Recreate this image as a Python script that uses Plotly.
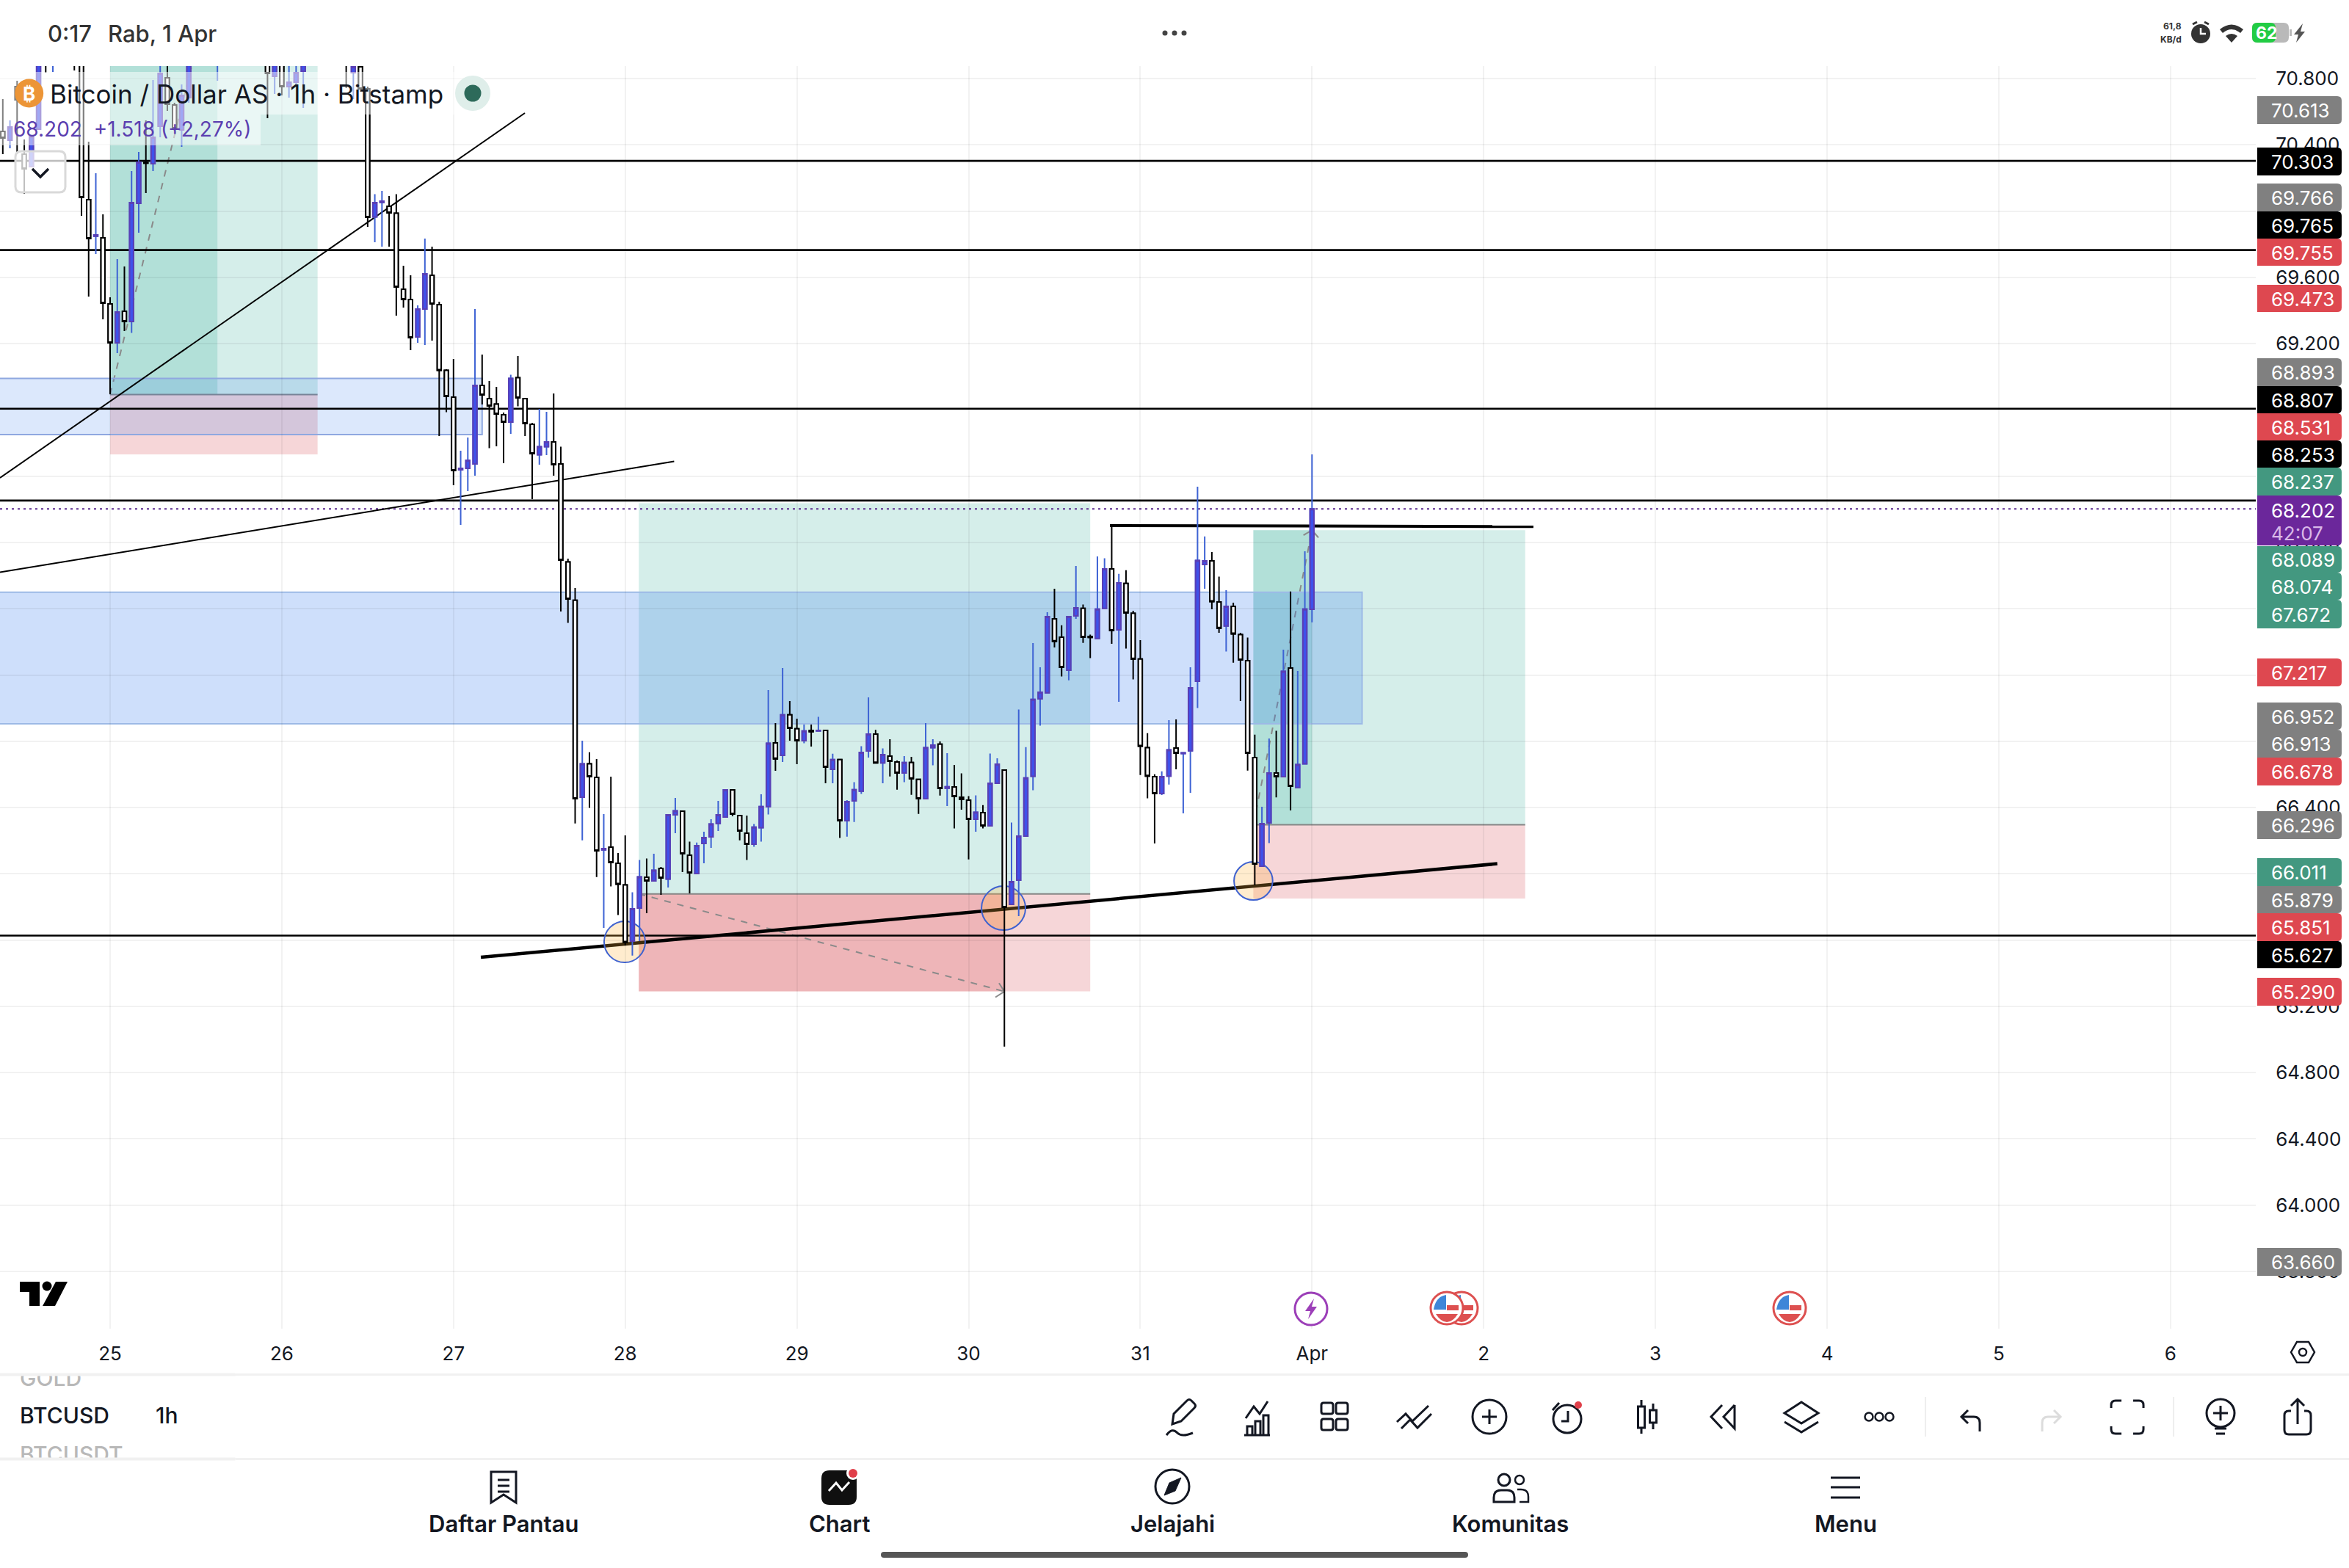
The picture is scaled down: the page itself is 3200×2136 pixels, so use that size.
import plotly.graph_objects as go

# BTCUSD hourly candles; hour 0 is 25 March 00:00, prices are in thousands of dollars.
HOURS = [-15, -14, -13, -12, -11, -10, -9, -8, -5, -4, -3, -2, -1, 0, 1, 2, 3, 4, 5, 6, 7, 8, 9, 10, 11,
         15, 22, 23, 24, 25, 26, 27] + list(range(33, 169))

OPEN = [70.481, 70.428, 70.751, 70.344, 70.268, 70.494, 71.053, 70.942, 71.2, 71.008,
        70.069, 69.848, 69.839, 69.440, 69.205, 69.395, 69.333, 70.047, 70.293, 70.286,
        70.512, 70.804, 70.640, 70.490, 70.685, 70.95, 71.1, 70.813, 70.96, 70.751, 70.778, 70.844,
        71.05, 70.835, 70.871, 70.738, 69.965, 70.052, 70.029, 69.987, 69.528, 69.466,
        69.240, 69.409, 69.613, 69.435, 69.039, 68.877, 68.439, 68.447, 68.474, 68.948,
        68.868, 68.835, 68.771, 68.726, 68.994, 68.868, 68.713, 68.529, 68.578, 68.607,
        68.474, 67.882, 67.651, 66.462, 66.664, 66.582, 66.144, 66.161, 66.064, 65.933,
        65.594, 65.793, 65.979, 65.957, 66.033, 65.968, 66.356, 66.378, 66.112, 66.002,
        66.183, 66.223, 66.304, 66.343, 66.507, 66.352, 66.245, 66.179, 66.278, 66.406,
        66.790, 66.715, 66.960, 66.876, 66.803, 66.864, 66.862, 66.866, 66.631, 66.689,
        66.321, 66.440, 66.499, 66.741, 66.843, 66.669, 66.710, 66.675, 66.609, 66.672,
        66.570, 66.454, 66.762, 66.782, 66.517, 66.524, 66.462, 66.445, 66.329, 66.369,
        66.290, 66.547, 66.626, 65.815, 65.962, 66.228, 66.589, 67.056, 67.093, 67.539,
        67.428, 67.229, 67.557, 67.602, 67.433, 67.421, 67.602, 67.840, 67.473, 67.753,
        67.572, 67.297, 66.761, 66.586, 66.484, 66.590, 66.759, 66.726, 66.743, 67.162,
        67.867, 67.889, 67.641, 67.496, 67.614, 67.444, 67.286, 66.702, 66.046, 66.307,
        66.609, 66.586, 67.242, 66.521, 66.664, 67.597]

HIGH = [70.676, 70.547, 70.787, 70.432, 70.450, 71.097, 71.15, 71.2, 71.3, 71.1,
        70.419, 70.228, 69.980, 69.480, 69.710, 69.666, 70.242, 70.357, 70.547, 70.791,
        71.008, 70.942, 70.654, 70.765, 71.05, 71.2, 71.2, 71.1, 71.0, 70.95, 70.95, 71.05,
        71.1, 70.95, 70.95, 70.751, 70.102, 70.122, 70.091, 70.102, 69.670, 69.613,
        69.431, 69.834, 69.785, 69.453, 69.045, 69.107, 68.554, 68.633, 69.409, 69.134,
        68.975, 68.939, 68.784, 69.012, 69.125, 68.873, 68.722, 68.806, 68.788, 68.899,
        68.578, 67.902, 67.725, 66.804, 66.734, 66.693, 66.360, 66.586, 66.126, 66.232,
        65.889, 66.084, 66.092, 66.121, 66.041, 66.356, 66.458, 66.378, 66.194, 66.189,
        66.254, 66.329, 66.440, 66.507, 66.507, 66.352, 66.352, 66.301, 66.480, 67.109,
        66.910, 67.242, 67.043, 66.936, 66.901, 66.901, 66.948, 66.866, 66.725, 66.689,
        66.445, 66.553, 66.770, 67.065, 66.869, 66.757, 66.812, 66.684, 66.711, 66.706,
        66.570, 66.910, 66.812, 66.799, 66.728, 66.657, 66.606, 66.469, 66.474, 66.415,
        66.726, 66.697, 66.626, 66.309, 66.992, 66.765, 67.393, 67.247, 67.579, 67.721,
        67.500, 67.552, 67.858, 67.625, 67.444, 67.916, 67.905, 68.104, 67.810, 67.833,
        67.588, 67.411, 66.849, 66.601, 66.619, 66.928, 66.932, 66.730, 67.247, 68.337,
        68.036, 67.942, 67.794, 67.712, 67.636, 67.455, 67.426, 66.840, 66.405, 66.817,
        66.863, 67.353, 67.704, 67.224, 67.947, 68.531]

LOW = [70.344, 70.379, 70.344, 70.104, 70.268, 70.494, 70.835, 70.840, 70.849, 69.971,
       69.484, 69.741, 69.347, 68.895, 69.143, 69.276, 69.265, 69.870, 70.109, 70.242,
       70.446, 70.605, 70.485, 70.388, 70.654, 70.787, 70.561, 70.707, 70.698, 70.685, 70.751, 70.623,
       70.742, 70.676, 70.720, 69.905, 69.812, 69.785, 69.785, 69.369, 69.418, 69.161,
       69.205, 69.192, 69.218, 68.642, 68.786, 68.345, 68.106, 68.310, 68.403, 68.833,
       68.569, 68.580, 68.478, 68.656, 68.822, 68.642, 68.261, 68.469, 68.527, 68.403,
       67.583, 67.515, 66.304, 66.202, 66.398, 65.981, 65.674, 65.924, 65.751, 65.567,
       65.507, 65.594, 65.762, 65.957, 65.873, 65.917, 66.245, 66.010, 65.882, 66.002,
       66.064, 66.157, 66.259, 66.343, 66.347, 66.202, 66.084, 66.163, 66.194, 66.358,
       66.622, 66.675, 66.804, 66.662, 66.788, 66.768, 66.862, 66.547, 66.547, 66.216,
       66.224, 66.313, 66.482, 66.702, 66.666, 66.547, 66.587, 66.508, 66.553, 66.477,
       66.362, 66.454, 66.655, 66.472, 66.409, 66.274, 66.387, 66.087, 66.254, 66.274,
       66.290, 66.547, 64.957, 65.815, 65.745, 66.228, 66.504, 66.894, 67.093, 67.366,
       67.191, 67.168, 67.539, 67.394, 67.302, 67.421, 67.602, 67.388, 67.038, 67.360,
       67.173, 66.596, 66.456, 66.183, 66.476, 66.539, 66.631, 66.365, 66.489, 67.001,
       67.721, 67.597, 67.455, 67.342, 67.274, 67.043, 66.623, 65.931, 66.046, 66.185,
       66.461, 66.586, 66.383, 66.521, 66.664, 67.518]

CLOSE = [70.441, 70.508, 70.672, 70.255, 70.450, 70.964, 70.920, 71.053, 70.98, 70.082,
         69.834, 69.856, 69.444, 69.205, 69.391, 69.333, 70.051, 70.295, 70.289, 70.446,
         70.831, 70.645, 70.499, 70.698, 70.920, 71.1, 70.831, 71.0, 70.751, 70.778, 70.835, 70.964,
         70.95, 70.871, 70.738, 69.963, 70.051, 70.060, 69.989, 69.542, 69.466, 69.236,
         69.409, 69.621, 69.440, 69.039, 68.882, 68.434, 68.447, 68.496, 68.948, 68.890,
         68.824, 68.775, 68.726, 68.990, 68.873, 68.718, 68.536, 68.578, 68.607, 68.469,
         67.893, 67.659, 66.454, 66.664, 66.586, 66.139, 66.152, 66.068, 65.937, 65.587,
         65.789, 65.982, 65.957, 66.021, 65.975, 66.356, 66.380, 66.121, 66.006, 66.170,
         66.219, 66.301, 66.356, 66.507, 66.360, 66.259, 66.179, 66.282, 66.406, 66.788,
         66.694, 66.960, 66.879, 66.804, 66.862, 66.858, 66.866, 66.644, 66.689, 66.321,
         66.436, 66.508, 66.733, 66.843, 66.669, 66.719, 66.680, 66.609, 66.672, 66.574,
         66.454, 66.762, 66.777, 66.516, 66.525, 66.467, 66.449, 66.329, 66.372, 66.290,
         66.547, 66.662, 65.798, 65.953, 66.228, 66.579, 67.053, 67.096, 67.552, 67.403,
         67.247, 67.552, 67.606, 67.428, 67.427, 67.598, 67.840, 67.468, 67.756, 67.574,
         67.297, 66.770, 66.590, 66.484, 66.586, 66.748, 66.728, 66.730, 67.123, 67.891,
         67.889, 67.643, 67.482, 67.614, 67.448, 67.291, 66.728, 66.059, 66.303, 66.609,
         66.586, 67.222, 66.529, 66.660, 67.598, 68.202]

assert len(HOURS) == len(OPEN) == len(HIGH) == len(LOW) == len(CLOSE)

# Axis ticks
PRICE_TICKS = [70.8, 70.4, 70.0, 69.6, 69.2, 68.8, 68.4, 68.0, 67.6, 67.2, 66.8, 66.4, 66.0,
               65.6, 65.2, 64.8, 64.4, 64.0, 63.6]
DAY_TICKS = [0, 24, 48, 72, 96, 120, 144, 168, 192, 216, 240, 264, 288]
DAY_LABELS = ["25", "26", "27", "28", "29", "30", "31", "Apr", "2", "3", "4", "5", "6"]

# Horizontal levels and the live price
LEVELS = [70.303, 69.765, 68.807, 68.253, 65.627]
LAST_PRICE = 68.202

# Supply/demand zones: (start hour, end hour, lower price, upper price)
ZONE_UPPER = (-20, 52, 68.651, 68.99)
ZONE_LOWER = (-20, 175, 66.905, 67.70)

# Long-position tools
POS_START = [0, 73.9, 159.8]
POS_END = [29, 137, 197.8]
POS_REACHED = [15, 125, 168]
POS_ENTRY = [68.893, 65.879, 66.296]
POS_TARGET = [71.5, 68.237, 68.074]
POS_STOP = [68.531, 65.290, 65.851]
POS_FINAL = [71.5, 65.290, 68.074]

# Trend lines: start hour, start price, end hour, end price, width
TRENDS = [(-15.39, 68.390, 57.97, 70.592, 2),
          (-15.39, 67.820, 78.84, 68.489, 2),
          (51.82, 65.496, 193.9, 66.061, 4.5),
          (139.75, 68.102, 198.95, 68.096, 4)]

# Touch markers on the rising trend line: hour range, price range
TOUCHES = [(69.05, 74.8, 65.465, 65.714),
           (121.8, 127.95, 65.660, 65.926),
           (157.1, 162.5, 65.842, 66.072)]

# Scale-side price tags
TAG_VALUES = [70.613, 70.303, 69.766, 69.765, 69.755, 69.473, 68.893, 68.807, 68.531, 68.253, 68.237,
              68.202, 68.089, 68.074, 67.672, 67.217, 66.952, 66.913, 66.678, 66.296, 66.011,
              65.879, 65.851, 65.627, 65.290, 63.660]
TAG_KINDS = ["grey", "black", "grey", "black", "red", "red", "grey", "black", "red", "black", "green",
             "purple", "green", "green", "green", "red", "grey", "grey", "red", "grey", "green",
             "grey", "red", "black", "red", "grey"]
COUNTDOWN = "42:07"

# ---- page geometry (pixels) ----
WIDTH, HEIGHT = 3200, 2136
PLOT_RIGHT, PLOT_TOP, PLOT_BOTTOM = 3073, 90, 1810
PX_PER_HOUR, HOUR0_PX = 9.746, 150
PX_PER_UNIT, REF_PRICE, REF_PX = 225.7, 70.8, 107

# Stacked tag slots on the scale: top and bottom edges
TAG_TOPS = [131, 201, 250, 288, 325, 388, 488, 526, 563, 600, 637, 675, 744, 780, 817, 897, 957, 994,
            1032, 1105, 1169, 1207, 1244, 1282, 1332, 1700]
TAG_BOTTOMS = [169, 239, 288, 325, 362, 425, 526, 563, 600, 637, 675, 743, 780, 817, 856, 935, 994,
               1032, 1070, 1143, 1207, 1244, 1282, 1319, 1370, 1738]

TAG_COLORS = {"grey": "#808080", "black": "#000000", "red": "#de4850", "green": "#439880", "purple": "#6b279b"}
INK = "#131722"
FONT = "Inter"
GRID = "rgba(0,0,0,0.05)"

x_range = [(0 - HOUR0_PX) / PX_PER_HOUR, (PLOT_RIGHT - HOUR0_PX) / PX_PER_HOUR]
y_range = [REF_PRICE - (PLOT_BOTTOM - REF_PX) / PX_PER_UNIT, REF_PRICE - (PLOT_TOP - REF_PX) / PX_PER_UNIT]

fig = go.Figure()

# Wicks first, bodies on top so the two can carry different colours.
fig.add_trace(go.Candlestick(
    x=HOURS, open=OPEN, high=HIGH, low=LOW, close=CLOSE, whiskerwidth=0, hoverinfo="skip", showlegend=False,
    increasing=dict(line=dict(color="#3d62d4", width=2), fillcolor="#3f51ea"),
    decreasing=dict(line=dict(color="#000000", width=2), fillcolor="#ffffff"),
))
body_high = [max(o, c) for o, c in zip(OPEN, CLOSE)]
body_low = [min(o, c) for o, c in zip(OPEN, CLOSE)]
fig.add_trace(go.Candlestick(
    x=HOURS, open=OPEN, high=body_high, low=body_low, close=CLOSE, whiskerwidth=0, hoverinfo="skip", showlegend=False,
    increasing=dict(line=dict(color="#5a3fb5", width=2), fillcolor="#3f51ea"),
    decreasing=dict(line=dict(color="#000000", width=2), fillcolor="#ffffff"),
))
# Empty trace that brings the full-page pixel axes into existence for the app chrome.
fig.add_trace(go.Scatter(x=[], y=[], xaxis="x2", yaxis="y2", showlegend=False, hoverinfo="skip"))

shapes = []
annotations = []


def data_rect(x0, x1, y0, y1, fill, line=None, lw=0):
    shapes.append(dict(type="rect", xref="x", yref="y", x0=x0, x1=x1, y0=y0, y1=y1, fillcolor=fill,
                       line=dict(color=line or "rgba(0,0,0,0)", width=lw), layer="below"))


def data_line(x0, y0, x1, y1, color="#000000", width=2, dash="solid"):
    shapes.append(dict(type="line", xref="x", yref="y", x0=x0, x1=x1, y0=y0, y1=y1,
                       line=dict(color=color, width=width, dash=dash), layer="below"))


# Position tools
GREEN = "rgba(8,153,129,0.17)"
PINK = "rgba(210,50,60,0.20)"
for k in range(3):
    s, e, r = POS_START[k], POS_END[k], POS_REACHED[k]
    data_rect(s, e, POS_ENTRY[k], POS_TARGET[k], GREEN)
    data_rect(s, e, POS_STOP[k], POS_ENTRY[k], PINK)
    if POS_FINAL[k] > POS_ENTRY[k]:
        data_rect(s, r, POS_ENTRY[k], POS_TARGET[k], GREEN)
    else:
        data_rect(s, r, POS_STOP[k], POS_ENTRY[k], PINK)
    data_line(s, POS_ENTRY[k], e, POS_ENTRY[k], "#868686", 2)
    data_line(s, POS_ENTRY[k], r, POS_FINAL[k], "#8a8a8a", 2, "9px,9px")
# Arrow heads of the two finished trades
data_line(125 - 1.25, 65.290 - 0.035, 125, 65.290, "#8a8a8a", 2)
data_line(125 - 0.75, 65.290 + 0.05, 125, 65.290, "#8a8a8a", 2)
data_line(168 - 1.2, 68.074 - 0.03, 168, 68.074, "#8a8a8a", 2)
data_line(168 + 0.9, 68.074 - 0.045, 168, 68.074, "#8a8a8a", 2)

# Zones
for zone, edge, fill in ((ZONE_UPPER, "#8fa8e0", "rgba(50,120,240,0.17)"),
                         (ZONE_LOWER, "#9dbae6", "rgba(50,120,240,0.24)")):
    data_rect(zone[0], zone[1], zone[2], zone[3], fill, edge, 2)

# Levels and lines
for level in LEVELS:
    data_line(x_range[0], level, x_range[1], level, "#000000", 2.6)
data_line(x_range[0], LAST_PRICE, x_range[1], LAST_PRICE, "#5b2a8e", 2, "3px,5px")
for x0, y0, x1, y1, w in TRENDS:
    data_line(x0, y0, x1, y1, "#000000", w)
for x0, x1, y0, y1 in TOUCHES:
    shapes.append(dict(type="circle", xref="x", yref="y", x0=x0, x1=x1, y0=y0, y1=y1,
                       fillcolor="rgba(255,180,60,0.25)", line=dict(color="#3f62d0", width=2), layer="below"))


# ---- app chrome, drawn on the full-page pixel axes ----
def px_path(d, fill="rgba(0,0,0,0)", line=INK, lw=3):
    shapes.append(dict(type="path", xref="x2", yref="y2", path=d, fillcolor=fill,
                       line=dict(color=line, width=lw), layer="above"))


def px_rect(x0, y0, x1, y1, fill, line="rgba(0,0,0,0)", lw=0):
    shapes.append(dict(type="rect", xref="x2", yref="y2", x0=x0, x1=x1, y0=y0, y1=y1, fillcolor=fill,
                       line=dict(color=line, width=lw), layer="above"))


def px_round(x0, y0, x1, y1, r, fill, line="rgba(0,0,0,0)", lw=0):
    d = (f"M{x0+r} {y0} L{x1-r} {y0} Q{x1} {y0} {x1} {y0+r} L{x1} {y1-r} Q{x1} {y1} {x1-r} {y1} "
         f"L{x0+r} {y1} Q{x0} {y1} {x0} {y1-r} L{x0} {y0+r} Q{x0} {y0} {x0+r} {y0} Z")
    px_path(d, fill, line, lw)


def px_circle(cx, cy, r, fill="rgba(0,0,0,0)", line=INK, lw=3):
    shapes.append(dict(type="circle", xref="x2", yref="y2", x0=cx - r, x1=cx + r, y0=cy - r, y1=cy + r,
                       fillcolor=fill, line=dict(color=line, width=lw), layer="above"))


def px_text(x, y, text, size, color=INK, anchor="left", weight=400):
    annotations.append(dict(xref="x2", yref="y2", x=x, y=y, text=text, showarrow=False, xanchor=anchor,
                            yanchor="middle", font=dict(family=FONT, size=size, color=color, weight=weight),
                            borderpad=0, borderwidth=0))


def px_band(y, h, color):
    annotations.append(dict(xref="x2", yref="y2", x=160, y=y, text=" ", showarrow=False, width=320, height=h,
                            bgcolor=color, xanchor="center", yanchor="middle", font=dict(size=2), borderpad=0))


# Symbol header panels over the chart
px_rect(0, 98, 660, 156, "rgba(255,255,255,0.5)")
px_rect(0, 156, 355, 198, "rgba(255,255,255,0.5)")
px_circle(39.7, 127, 19.5, "#ec9537", "#ec9537", 0)
px_text(39.7, 127, "₿", 26, "#ffffff", "center", 700)
px_text(68, 128, "Bitcoin / Dollar AS · 1h · Bitstamp", 35)
px_text(18, 176, "68.202  +1.518 (+2,27%)", 28, "#5b3fb0")
px_circle(644, 127, 24, "#dfeeea", "#dfeeea", 0)
px_circle(644, 127, 11.5, "#2d6a5a", "#2d6a5a", 0)
px_round(21, 206, 89, 262, 8, "rgba(255,255,255,0.75)", "#d9d9d9", 3)
px_path("M44 230 L55 241 L66 230", line=INK, lw=3.5)

# Price tags
for value, kind, top, bottom in zip(TAG_VALUES, TAG_KINDS, TAG_TOPS, TAG_BOTTOMS):
    d = (f"M3075 {top} L3184 {top} Q3190 {top} 3190 {top+6} L3190 {bottom-6} Q3190 {bottom} 3184 {bottom} "
         f"L3075 {bottom} Z")
    px_path(d, TAG_COLORS[kind], "rgba(0,0,0,0)", 0)
    if kind == "purple":
        px_text(3094, 695, f"{value:.3f}", 26, "#ffffff")
        px_text(3094, 726.5, COUNTDOWN, 26, "#d9b8e8")
    else:
        px_text(3094, (top + bottom) / 2 + 0.5, f"{value:.3f}", 26, "#ffffff")

# Scale settings icon
px_path("M3121 1842 L3129 1828 L3145 1828 L3153 1842 L3145 1856 L3129 1856 Z", line=INK, lw=2.5)
px_circle(3137, 1842, 5, line=INK, lw=2.5)

# Logo
px_path("M27 1746 L54 1746 L54 1779 L40 1779 L40 1760 L27 1760 Z", "#000000", "#000000", 0)
px_circle(64, 1752, 6.5, "#000000", "#000000", 0)
px_path("M76 1746 L92 1746 L75 1779 L58 1779 Z", "#000000", "#000000", 0)

# Economic calendar events
px_circle(1786, 1783, 22, "#ffffff", "#9c3fb8", 3)
px_path("M1790 1769 L1778 1786 L1785 1786 L1782 1797 L1794 1780 L1787 1780 Z", "#9c3fb8", "#9c3fb8", 0)


def flag(cx, cy):
    px_circle(cx, cy, 22, "#ffffff", "#dd5050", 3)
    px_rect(cx, cy - 4, cx + 16, cy + 3, "#dd5050")
    px_path(f"M{cx-15} {cy+8} L{cx+15} {cy+8} Q{cx+8} {cy+19} {cx} {cy+19} Q{cx-8} {cy+19} {cx-15} {cy+8} Z",
            "#dd5050", "#dd5050", 0)
    px_path(f"M{cx-18} {cy+2} L{cx-1} {cy+2} L{cx-1} {cy-18} Q{cx-15} {cy-16} {cx-18} {cy+2} Z",
            "#3f86d8", "#3f86d8", 0)


flag(1991, 1782)
flag(1971, 1782)
flag(2438, 1782)

# Separators
px_rect(0, 1871, WIDTH, 1874, "#f1f1f1")
px_rect(0, 1986, WIDTH, 1989, "#f1f1f1")

# Symbol roller: neighbours are cut off at the separators
px_text(27, 1877, "GOLD", 30, "#b8b8b8", weight=500)
px_text(27, 1981, "BTCUSDT", 30, "#b8b8b8", weight=500)
px_band(1864, 14, "#ffffff")
px_band(1995, 14, "#ffffff")
px_band(1872.5, 3, "#f1f1f1")
px_band(1987.5, 3, "#f1f1f1")
px_text(27, 1928, "BTCUSD", 30, INK, weight=500)
px_text(212, 1928, "1h", 30, INK, weight=500)

# Toolbar icons
px_path("M1597 1940 L1599 1926 L1617 1908 Q1620 1905 1623 1908 L1627 1912 Q1630 1915 1627 1918 L1609 1936 Z")
px_path("M1589 1955 Q1597 1944 1604 1952 Q1610 1958 1625 1952")
px_path("M1695 1955 L1730 1955 M1699 1955 L1699 1943 L1706 1943 L1706 1955 M1710 1955 L1710 1936 L1717 1936 L1717 1955 "
        "M1721 1955 L1721 1928 L1728 1928 L1728 1955")
px_path("M1697 1932 L1708 1916 L1716 1926 L1727 1909")
for bx in (1800, 1820):
    for by in (1911, 1933):
        px_round(bx, by, bx + 16, by + 15, 3, "rgba(0,0,0,0)", INK, 3)
px_path("M1903 1937 L1915 1926 L1924 1936 L1946 1915 M1909 1946 L1921 1934 L1931 1945 L1950 1926")
px_circle(2029, 1930, 23)
px_path("M2029 1920 L2029 1940 M2019 1930 L2039 1930")
px_circle(2135, 1933, 19)
px_path("M2136 1922 L2136 1936 L2127 1936 M2115 1921 L2124 1911")
px_circle(2150, 1914, 5, "#e0404a", "#e0404a", 0)
px_path("M2236 1907 L2236 1953 M2252 1912 L2252 1947")
px_rect(2231.5, 1916, 2240.5, 1945, "#ffffff", INK, 3)
px_rect(2247.5, 1921, 2256.5, 1938, "#ffffff", INK, 3)
px_path("M2346 1914 L2331 1930 L2346 1946 M2363 1914 L2348 1930 L2363 1946 L2363 1914")
px_path("M2454 1910 L2477 1925 L2454 1939 L2431 1925 Z")
px_path("M2431 1937 L2454 1951 L2477 1937")
for mx in (2546, 2560, 2574):
    px_circle(mx, 1930, 5.5, lw=2.5)
px_rect(2622, 1903, 2624, 1957, "#eeeeee")
px_rect(2960, 1903, 2962, 1957, "#eeeeee")
px_path("M2697 1950 L2697 1938 Q2697 1930 2689 1930 L2673 1930 M2681 1921 L2672 1930 L2681 1939")
px_path("M2782 1950 L2782 1938 Q2782 1930 2790 1930 L2806 1930 M2798 1921 L2807 1930 L2798 1939", line="#dcdcdc")
px_path("M2876 1918 L2876 1914 Q2876 1908 2882 1908 L2890 1908 M2906 1908 L2914 1908 Q2920 1908 2920 1914 L2920 1918 "
        "M2920 1943 L2920 1947 Q2920 1953 2914 1953 L2906 1953 M2890 1953 L2882 1953 Q2876 1953 2876 1947 L2876 1943")
px_circle(3025, 1925, 19)
px_path("M3025 1915 L3025 1935 M3015 1925 L3035 1925 M3017 1946 L3033 1946 M3019 1953 L3031 1953")
px_path("M3121 1922 L3118 1922 Q3112 1922 3112 1928 L3112 1948 Q3112 1954 3118 1954 L3142 1954 Q3148 1954 3148 1948 "
        "L3148 1928 Q3148 1922 3142 1922 L3139 1922 M3130 1940 L3130 1906 M3121 1915 L3130 1906 L3139 1915")

# Bottom navigation
px_path("M669 2005 L703 2005 L703 2047 L686 2036 L669 2047 Z")
px_path("M678 2016 L694 2016 M678 2024 L694 2024 M678 2032 L694 2032")
px_round(1119, 2003, 1167, 2050, 11, "#101010", "#101010", 0)
px_path("M1129 2031 L1139 2020 L1147 2030 L1157 2019", line="#ffffff", lw=3)
px_circle(1162, 2007, 9, "#ffffff", "#ffffff", 0)
px_circle(1162, 2007, 6, "#e0404a", "#e0404a", 0)
px_circle(1597, 2025, 23)
px_path("M1609 2013 L1601 2031 L1586 2037 L1593 2020 Z", INK, INK, 1)
px_circle(2049, 2016, 8)
px_circle(2070, 2016, 6, lw=2.5)
px_path("M2035 2046 L2035 2040 Q2035 2030 2045 2030 L2053 2030 Q2063 2030 2063 2040 L2063 2046 Z")
px_path("M2067 2029 L2072 2029 Q2082 2029 2082 2039 L2082 2046 L2070 2046", lw=2.5)
for my in (2013, 2026, 2040):
    px_rect(2494, my - 1.5, 2534, my + 1.5, INK)
for x, text in ((686, "Daftar Pantau"), (1143, "Chart"), (1597, "Jelajahi"), (2057, "Komunitas"), (2514, "Menu")):
    px_text(x, 2075, text, 31, INK, "center", 600)
px_round(1200, 2114, 2000, 2122, 4, "#565656", "#565656", 0)

# Status bar
px_text(65, 45, "0:17", 31, "#333333", weight=500)
px_text(147, 45, "Rab, 1 Apr", 31, "#333333", weight=500)
for sx in (1587, 1600, 1613):
    px_circle(sx, 45, 3.5, "#444444", "#444444", 0)
px_text(2972, 35, "61,8", 12, "#333333", "right", 700)
px_text(2972, 53, "KB/d", 12, "#333333", "right", 700)
px_circle(2998, 46, 13, "#333333", "#333333", 0)
px_path("M2998 38 L2998 46 L3005 46", line="#ffffff", lw=2.5)
px_path("M2987 33 L2993 30 M3009 33 L3003 30", line="#333333", lw=3)
px_path("M3024 40 Q3040 27 3056 40 L3052 45 Q3040 35 3028 45 Z", "#333333", "#333333", 0)
px_path("M3032 49 Q3040 43 3048 49 L3040 58 Z", "#333333", "#333333", 0)
px_round(3068, 31, 3118, 58, 7, "#b9b9b9", "#b9b9b9", 0)
px_round(3068, 31, 3100, 58, 7, "#22cc44", "#22cc44", 0)
px_rect(3119, 40, 3122, 49, "#b9b9b9")
px_text(3087, 45, "62", 23, "#ffffff", "center", 700)
px_path("M3137 32 L3125 47 L3131 47 L3128 58 L3140 43 L3134 43 Z", "#555555", "#555555", 0)

fig.update_layout(
    width=WIDTH, height=HEIGHT, autosize=False,
    margin=dict(l=0, r=0, t=0, b=0, pad=0),
    paper_bgcolor="#ffffff", plot_bgcolor="rgba(0,0,0,0)",
    showlegend=False, hovermode=False, dragmode=False,
    boxgap=0.45, boxgroupgap=0.0,
    font=dict(family=FONT, color=INK),
    shapes=shapes, annotations=annotations,
    xaxis=dict(domain=[0, PLOT_RIGHT / WIDTH], range=x_range, rangeslider=dict(visible=False), anchor="y",
               tickmode="array", tickvals=DAY_TICKS, ticktext=DAY_LABELS, ticks="outside", ticklen=11,
               tickcolor="rgba(0,0,0,0)", tickfont=dict(family=FONT, size=26, color=INK),
               showgrid=True, gridcolor=GRID, gridwidth=2, zeroline=False, showline=False, fixedrange=True),
    yaxis=dict(domain=[1 - PLOT_BOTTOM / HEIGHT, 1 - PLOT_TOP / HEIGHT], range=y_range, anchor="x", side="right",
               tickmode="array", tickvals=PRICE_TICKS, ticktext=[f"{p:.3f}" for p in PRICE_TICKS],
               ticks="outside", ticklen=21, tickcolor="rgba(0,0,0,0)",
               tickfont=dict(family=FONT, size=26, color=INK),
               showgrid=True, gridcolor=GRID, gridwidth=2, zeroline=False, showline=False, fixedrange=True),
    xaxis2=dict(domain=[0, 1], range=[0, WIDTH], anchor="y2", visible=False, fixedrange=True),
    yaxis2=dict(domain=[0, 1], range=[HEIGHT, 0], anchor="x2", visible=False, fixedrange=True),
)

fig.write_html("out.html", config={"displayModeBar": False})
